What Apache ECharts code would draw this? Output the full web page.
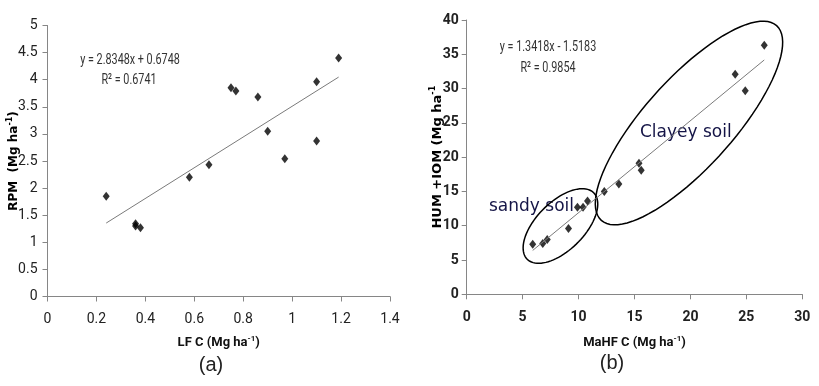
<!DOCTYPE html>
<html>
<head>
<meta charset="utf-8">
<script src="https://cdn.jsdelivr.net/npm/echarts@6/dist/echarts.min.js"></script>
<style>
html, body { margin: 0; padding: 0; background: #fff; }
#chart { width: 819px; height: 386px; }
</style>
</head>
<body>
<div id="chart"></div>
<script>
// (a) LF C vs RPM
const lfC = [0.24, 0.36, 0.36, 0.38, 0.58, 0.66, 0.75, 0.77, 0.86, 0.90, 0.97, 1.10, 1.10, 1.19]
const rpm = [1.85, 1.34, 1.30, 1.27, 2.20, 2.43, 3.85, 3.79, 3.68, 3.05, 2.54, 3.96, 2.87, 4.40]
const fitA = [2.8348, 0.6748] // slope, intercept

// (b) MaHF C vs HUM + IOM
const mahfC = [5.9, 6.8, 7.2, 9.1, 9.9, 10.4, 10.8, 12.3, 13.6, 15.4, 15.6, 24.0, 24.9, 26.6]
const humIom = [7.3, 7.4, 8.0, 9.6, 12.7, 12.7, 13.6, 15.0, 16.1, 19.1, 18.1, 32.1, 29.7, 36.3]
const fitB = [1.3418, -1.5183]

// soil group ellipse centres (data units of chart b)
const groupNames = ['sandy soil', 'Clayey soil']
const groupCenters = [[8.38, 9.96], [19.87, 24.98]]

const narrow = "Roboto, 'DejaVu Sans', sans-serif"
const axisGrey = '#868686'

const chart = echarts.init(document.getElementById('chart'))

function trend(xs, fit) {
  const lo = Math.min(...xs)
  const hi = Math.max(...xs)
  return [[lo, fit[0] * lo + fit[1]], [hi, fit[0] * hi + fit[1]]]
}

function xAxisOf(idx, max, interval, name, gap, bold) {
  return {
    gridIndex: idx,
    type: 'value',
    min: 0,
    max,
    interval,
    name,
    nameLocation: 'middle',
    nameGap: gap,
    nameMoveOverlap: false,
    nameTextStyle: {
      fontFamily: narrow, fontSize: 12.5, color: '#000',
      rich: {
        b: { fontFamily: narrow, fontSize: 13, fontWeight: 'bold', color: '#111', lineHeight: 16 },
        s: { fontFamily: narrow, fontSize: 8, fontWeight: 'bold', color: '#111', verticalAlign: 'top', lineHeight: 16 },
      },
    },
    splitLine: { show: false },
    axisLine: { show: true, onZero: false, lineStyle: { color: axisGrey } },
    axisTick: { show: true, length: 5, lineStyle: { color: axisGrey } },
    axisLabel: { fontFamily: narrow, fontSize: 14, color: '#222', margin: 16, fontWeight: bold ? 'bold' : 'normal' },
  }
}

function yAxisOf(idx, max, interval, name, gap, margin, size, bold) {
  return {
    gridIndex: idx,
    type: 'value',
    min: 0,
    max,
    interval,
    name,
    nameLocation: 'middle',
    nameGap: gap,
    nameMoveOverlap: false,
    nameTextStyle: {
      fontFamily: 'DejaVu Sans', fontSize: size, fontWeight: 'bold', color: '#000',
      rich: {
        b: { fontFamily: 'DejaVu Sans', fontSize: size, fontWeight: 'bold', color: '#000', lineHeight: 16 },
        s: { fontFamily: 'DejaVu Sans', fontSize: 8, fontWeight: 'bold', color: '#000', verticalAlign: 'top', lineHeight: 16 },
      },
    },
    splitLine: { show: false },
    axisLine: { show: true, onZero: false, lineStyle: { color: axisGrey } },
    axisTick: { show: true, length: 5, lineStyle: { color: axisGrey } },
    axisLabel: { fontFamily: narrow, fontSize: 14, color: '#222', margin, fontWeight: bold ? 'bold' : 'normal' },
  }
}

function textEl(text, x, y, size, family, color, align, squeeze) {
  return {
    type: 'text', x, y, silent: true, scaleX: squeeze || 1,
    style: { text, fontSize: size, fontFamily: family, fill: color, align: align || 'center', verticalAlign: 'middle' },
  }
}

const ellipseShape = [
  { rx: 47, ry: 24, rot: 45 },
  { rx: 131, ry: 44.5, rot: 48 },
]

chart.setOption({
  animation: false,
  grid: [
    { left: 47.5, top: 25.5, width: 342.5, height: 271 },
    { left: 466.7, top: 20, width: 335.6, height: 274.3 },
  ],
  xAxis: [
    xAxisOf(0, 1.4, 0.2, '{b|LF C (Mg ha}{s|-1}{b|)}', 38.5, false),
    xAxisOf(1, 30, 5, '{b|MaHF C (Mg ha}{s|-1}{b|)}', 40.5, true),
  ],
  yAxis: [
    yAxisOf(0, 5, 0.5, '{b|RPM  (Mg ha}{s|-1}{b|)}', 26, 10, 12, false),
    yAxisOf(1, 40, 5, '{b|HUM +IOM (Mg ha}{s|-1}', 21.5, 8, 13, true),
  ],
  series: [
    {
      type: 'line', xAxisIndex: 0, yAxisIndex: 0, silent: true,
      data: trend(lfC, fitA), symbol: 'none',
      lineStyle: { color: '#7a7a7a', width: 1 },
    },
    {
      type: 'scatter', xAxisIndex: 0, yAxisIndex: 0,
      data: lfC.map((x, i) => [x, rpm[i]]),
      symbol: 'diamond', symbolSize: [7, 9], itemStyle: { color: '#000' },
    },
    {
      type: 'line', xAxisIndex: 1, yAxisIndex: 1, silent: true,
      data: trend(mahfC, fitB), symbol: 'none',
      lineStyle: { color: '#7a7a7a', width: 1 },
    },
    {
      type: 'scatter', xAxisIndex: 1, yAxisIndex: 1,
      data: mahfC.map((x, i) => [x, humIom[i]]),
      symbol: 'diamond', symbolSize: [7, 9], itemStyle: { color: '#000' },
    },
    {
      type: 'custom', xAxisIndex: 1, yAxisIndex: 1, silent: true, clip: false,
      data: groupCenters,
      renderItem(params, api) {
        const c = api.coord([api.value(0), api.value(1)])
        const e = ellipseShape[params.dataIndex]
        const th = e.rot * Math.PI / 180
        const pts = []
        for (let i = 0; i < 90; i++) {
          const t = i / 90 * 2 * Math.PI
          const u = e.rx * Math.cos(t)
          const v = e.ry * Math.sin(t)
          pts.push([c[0] + u * Math.cos(th) - v * Math.sin(th), c[1] - (u * Math.sin(th) + v * Math.cos(th))])
        }
        return {
          type: 'polygon',
          shape: { points: pts },
          style: { fill: 'none', stroke: '#000', lineWidth: 1.5 },
        }
      },
    },
  ],
  graphic: [
    textEl('y = 2.8348x + 0.6748', 130, 60, 15, narrow, '#333', 'center', 0.72),
    textEl('R² = 0.6741', 129, 80, 15, narrow, '#333', 'center', 0.72),
    textEl('y = 1.3418x - 1.5183', 548, 47, 15, narrow, '#333', 'center', 0.72),
    textEl('R² = 0.9854', 548, 68, 15, narrow, '#333', 'center', 0.72),
    textEl(groupNames[0], 489, 207, 17, 'DejaVu Sans', '#141446', 'left'),
    textEl(groupNames[1], 640, 133, 17, 'DejaVu Sans', '#141446', 'left'),
    textEl('(a)', 211, 365, 20, "'Liberation Sans', sans-serif", '#222'),
    textEl('(b)', 612, 363, 20, "'Liberation Sans', sans-serif", '#222'),
  ],
})
</script>
</body>
</html>
